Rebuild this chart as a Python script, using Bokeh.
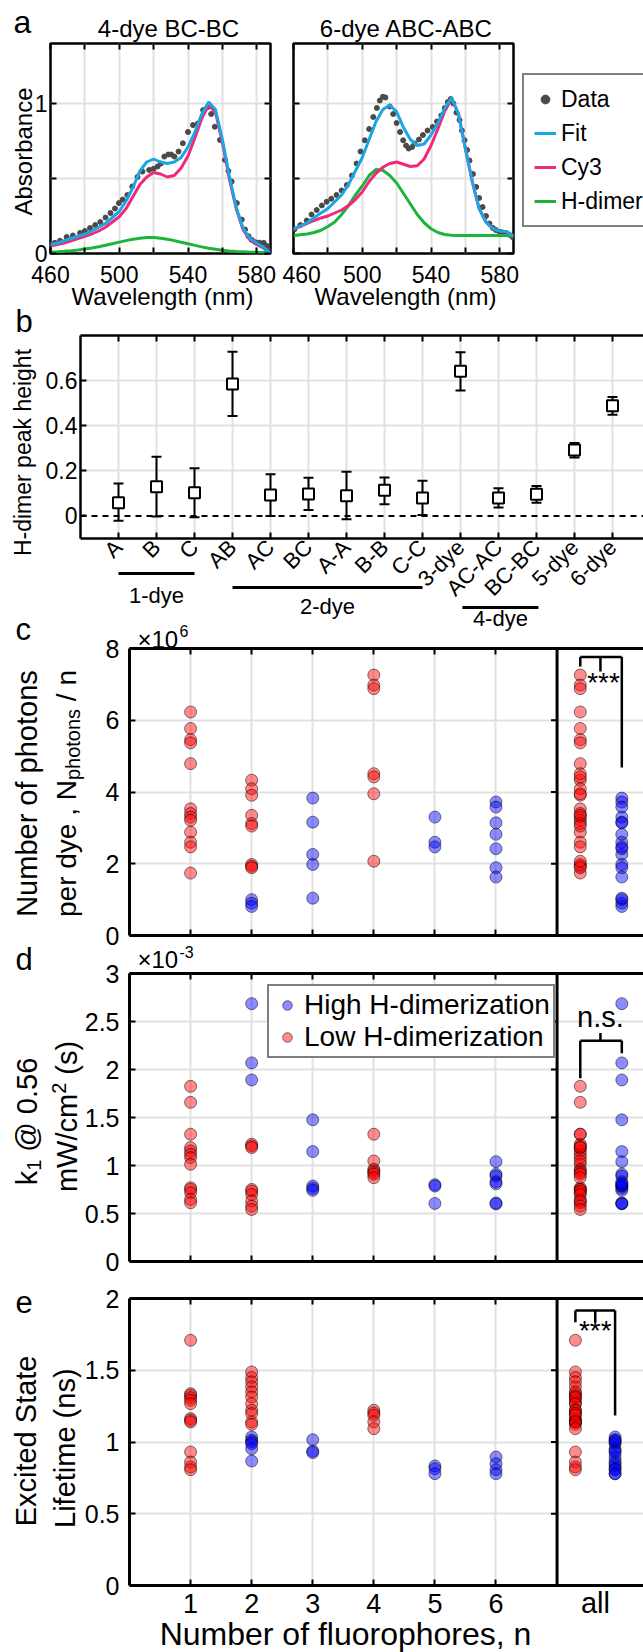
import math
from bokeh.plotting import figure
from bokeh.layouts import column, row
from bokeh.models import (Label, Legend, LegendItem, LinearAxis, FixedTicker, Span, Range1d)
from bokeh.embed import file_html
from bokeh.resources import INLINE

FONT = "Liberation Sans"
GRIDC = "#e1e1e1"
FITC = "#1aa6e2"
CY3C = "#f2287c"
HDC = "#1db43c"
DATC = "#4a4a4a"
NB = "\u00a0"

# ---------------- panel a data ----------------
wl_fit = [460, 464, 468, 472, 476, 480, 484, 488, 492, 496, 500, 504, 508, 512, 516, 520,
          524, 528, 532, 536, 540, 544, 548, 552, 556, 560, 564, 568, 572, 576, 580, 584, 588]
bcbc_fit = [0.06, 0.07, 0.085, 0.10, 0.115, 0.13, 0.15, 0.175, 0.20, 0.24, 0.28, 0.35, 0.44, 0.55, 0.61, 0.63,
            0.61, 0.60, 0.61, 0.64, 0.71, 0.81, 0.93, 1.01, 0.96, 0.76, 0.52, 0.31, 0.17, 0.10, 0.07, 0.04, 0.0]
bcbc_cy3 = [0.05, 0.06, 0.07, 0.085, 0.10, 0.115, 0.13, 0.15, 0.175, 0.21, 0.245, 0.30, 0.38, 0.46, 0.51, 0.54,
            0.53, 0.51, 0.52, 0.57, 0.65, 0.77, 0.90, 0.99, 0.94, 0.74, 0.50, 0.30, 0.16, 0.09, 0.06, 0.035, 0.0]
bcbc_hd = [0.010, 0.012, 0.015, 0.019, 0.024, 0.030, 0.037, 0.045, 0.055, 0.065, 0.076, 0.086, 0.095, 0.102,
           0.106, 0.106, 0.102, 0.095, 0.086, 0.075, 0.065, 0.054, 0.044, 0.035, 0.028, 0.022, 0.017, 0.013,
           0.011, 0.009, 0.008, 0.007, 0.006]
bcbc_wl = [460.5, 462.5, 465.5, 469.4, 473, 477.2, 480, 483, 486, 489, 492, 494.9, 497.5, 499.8, 502, 504.7,
           507.6, 510.6, 513.5, 517.4, 520, 522.3, 524.2, 526.2, 528.5, 530.2, 532.1, 534.5, 537, 540, 542.9,
           545.8, 548.8, 551.7, 553.5, 555.6, 558.6, 561.5, 563.5, 565.4, 568.4, 571.3, 573.2, 575.2, 577.2,
           579.2, 581.5, 584, 586, 588]
bcbc_dat = [0.065, 0.071, 0.085, 0.11, 0.12, 0.137, 0.15, 0.17, 0.19, 0.21, 0.24, 0.27, 0.30, 0.336, 0.36,
            0.39, 0.447, 0.51, 0.546, 0.557, 0.565, 0.58, 0.60, 0.646, 0.66, 0.66, 0.646, 0.68, 0.735, 0.81,
            0.856, 0.867, 0.956, 0.978, 0.93, 0.845, 0.757, 0.624, 0.55, 0.48, 0.336, 0.226, 0.16, 0.115,
            0.09, 0.075, 0.072, 0.071, 0.05, 0.02]

abc_fit = [0.164, 0.185, 0.205, 0.24, 0.27, 0.30, 0.345, 0.39, 0.46, 0.55, 0.64, 0.76, 0.88, 0.96, 0.99, 0.945,
           0.84, 0.76, 0.72, 0.73, 0.79, 0.87, 0.97, 1.04, 0.93, 0.70, 0.48, 0.30, 0.21, 0.165, 0.15, 0.145, 0.115]
abc_cy3 = [0.16, 0.18, 0.20, 0.22, 0.237, 0.25, 0.27, 0.29, 0.32, 0.36, 0.41, 0.48, 0.535, 0.575, 0.60, 0.61,
           0.595, 0.58, 0.585, 0.63, 0.72, 0.83, 0.95, 1.03, 0.93, 0.70, 0.48, 0.30, 0.21, 0.165, 0.15, 0.145, 0.115]
abc_hd = [0.12, 0.125, 0.13, 0.14, 0.155, 0.18, 0.21, 0.26, 0.32, 0.39, 0.45, 0.52, 0.56, 0.555, 0.52, 0.47,
          0.40, 0.33, 0.26, 0.205, 0.165, 0.14, 0.127, 0.122, 0.12, 0.12, 0.12, 0.12, 0.12, 0.12, 0.12, 0.12, 0.115]
abc_wl = [460.5, 464, 467.7, 470.5, 473.5, 476.5, 479.3, 482, 485, 488, 491, 494, 496.7, 499, 501.5, 504,
          506.4, 508.5, 510.2, 512, 513.5, 516, 518, 520, 522, 523.8, 525.5, 527, 529, 530.5, 533, 535.3,
          538, 541, 543.5, 546, 548, 549.8, 551.5, 553, 554.8, 556.6, 558, 559.5, 561, 562.4, 564.4, 566.3,
          568, 570, 572, 574, 576, 577.8, 580, 581.7, 583.5, 585.6, 587.5]
abc_dat = [0.16, 0.19, 0.22, 0.26, 0.29, 0.32, 0.345, 0.365, 0.39, 0.42, 0.456, 0.52, 0.60, 0.68, 0.755, 0.83,
           0.91, 0.97, 1.02, 1.045, 1.04, 0.98, 0.93, 0.87, 0.81, 0.755, 0.72, 0.70, 0.71, 0.733, 0.76, 0.79,
           0.82, 0.844, 0.88, 0.92, 0.97, 1.01, 1.03, 1.0, 0.94, 0.89, 0.82, 0.755, 0.69, 0.62, 0.53, 0.444,
           0.37, 0.31, 0.25, 0.20, 0.17, 0.156, 0.145, 0.14, 0.135, 0.125, 0.11]
wl_ticks = [460, 480, 500, 520, 540, 560, 580]
wl_labels = ["460", "", "500", "", "540", "", "580"]

# ---------------- panel b data ----------------
b_cats = ["A", "B", "C", "AB", "AC", "BC", "A-A", "B-B", "C-C", "3-dye", "AC-AC", "BC-BC", "5-dye", "6-dye"]
b_mid = [0.059, 0.129, 0.103, 0.585, 0.093, 0.097, 0.089, 0.114, 0.080, 0.641, 0.080, 0.096, 0.292, 0.489]
b_hi = [0.144, 0.262, 0.212, 0.728, 0.185, 0.169, 0.196, 0.170, 0.156, 0.726, 0.123, 0.133, 0.323, 0.527]
b_lo = [-0.021, -0.003, -0.006, 0.443, 0.0, 0.026, -0.015, 0.052, 0.004, 0.556, 0.037, 0.059, 0.259, 0.449]
b_groups = [("1-dye", 1, 3), ("2-dye", 4, 9), ("4-dye", 10.05, 12.05)]

# ---------------- panels c-e data ----------------
n_ticks = [1, 2, 3, 4, 5, 6]
photons_low = {1: [6.23, 5.77, 5.46, 5.37, 4.79, 3.53, 3.40, 3.30, 3.21, 2.88, 2.60, 2.47, 1.74],
               2: [4.33, 4.09, 3.91, 3.35, 3.12, 3.05, 1.98, 1.93, 1.89],
               4: [7.26, 6.98, 6.88, 4.51, 4.42, 3.95, 2.07]}
photons_high = {2: [1.00, 0.90, 0.81],
                3: [3.83, 3.16, 2.26, 1.98, 1.04],
                5: [3.30, 2.60, 2.47],
                6: [3.72, 3.58, 3.14, 2.82, 2.42, 1.89, 1.63]}
k1_low = {1: [1.825, 1.658, 1.326, 1.187, 1.152, 1.117, 1.082, 1.013, 0.768, 0.751, 0.716, 0.646, 0.612],
          2: [1.222, 1.204, 1.187, 0.751, 0.733, 0.698, 0.629, 0.577, 0.542],
          4: [1.326, 1.047, 0.960, 0.943, 0.925, 0.908, 0.873]}
k1_high = {2: [2.686, 2.069, 1.891],
           3: [1.476, 1.145, 0.786, 0.762, 0.741],
           5: [0.80, 0.786, 0.605],
           6: [1.04, 0.91, 0.89, 0.83, 0.81, 0.61, 0.60]}
life_low = {1: [1.709, 1.337, 1.326, 1.309, 1.291, 1.267, 1.163, 1.151, 1.140, 0.930, 0.860, 0.826, 0.807],
            2: [1.488, 1.449, 1.419, 1.384, 1.349, 1.314, 1.267, 1.221, 1.198, 1.140, 1.123],
            4: [1.221, 1.202, 1.186, 1.140, 1.093]}
life_high = {2: [1.035, 1.012, 1.0, 0.988, 0.953, 0.867],
             3: [1.016, 0.937, 0.926],
             5: [0.833, 0.814, 0.779],
             6: [0.895, 0.849, 0.807, 0.779]}

# Arial / Liberation Sans advance widths (1/1000 em) for composing multi-part labels
AW = {' ': 278, NB: 278, '(': 333, ')': 333, ',': 278, '-': 333, '.': 278, '/': 278, '@': 1015, '×': 584,
      'N': 722, 'W': 944, 'a': 556, 'c': 500, 'd': 556, 'e': 556, 'h': 556, 'k': 500, 'm': 833,
      'n': 556, 'o': 556, 'p': 556, 'r': 333, 's': 500, 't': 278, 'y': 500}


def tw(s, size):
    return sum(AW.get(ch, 556) for ch in s) * size / 1000.0


# ---------------- helpers ----------------
def mk(w, h, xr, yr, l, r, t, b):
    p = figure(width=w, height=h, x_range=Range1d(*xr), y_range=Range1d(*yr),
               output_backend="svg", toolbar_location=None,
               x_axis_location=None, y_axis_location=None,
               min_border_left=l, min_border_right=r, min_border_top=t, min_border_bottom=b)
    p.title = None
    p.frame_align = False
    p.background_fill_color = "white"
    p.border_fill_color = "white"
    p.outline_line_color = None
    for g in p.xgrid + p.ygrid:
        g.grid_line_color = GRIDC
        g.grid_line_width = 2
    return p


def set_grid(p, xt, yt):
    p.xgrid.ticker = FixedTicker(ticks=xt, minor_ticks=[])
    p.ygrid.ticker = FixedTicker(ticks=yt, minor_ticks=[])


def axis(p, side, ticks, labels=None, size="23px", line=True, lw=2.5, standoff=5, orient=None):
    ax = LinearAxis(ticker=FixedTicker(ticks=list(ticks), minor_ticks=[]))
    ax.major_tick_in = 6
    ax.major_tick_out = 0
    ax.minor_tick_line_color = None
    ax.major_tick_line_width = 2
    ax.major_tick_line_color = "black"
    ax.axis_line_width = lw
    ax.axis_line_color = "black" if line else None
    ax.major_label_text_font = FONT
    ax.major_label_text_color = "black"
    ax.major_label_text_font_size = size
    if labels is None:
        labels = [""] * len(ticks)
        ax.major_label_standoff = 0
    else:
        ax.major_label_standoff = standoff
    ax.major_label_overrides = {t: s for t, s in zip(ticks, labels)}
    if orient is not None:
        ax.major_label_orientation = orient
    p.add_layout(ax, side)
    return ax


V = math.pi / 2

# ================= Row A =================
A1 = mk(282, 309, (460, 588), (0, 1.4), 50, 12, 43, 56)
A2 = mk(361, 309, (460, 588), (0, 1.4), 11, 130, 43, 56)
for key, p, wl, dat, hd, cy, ft in [
        ("A1", A1, bcbc_wl, bcbc_dat, bcbc_hd, bcbc_cy3, bcbc_fit),
        ("A2", A2, abc_wl, abc_dat, abc_hd, abc_cy3, abc_fit)]:
    p.outline_line_color = "black"
    p.outline_line_width = 2.5
    set_grid(p, wl_ticks[1:], [0.5, 1.0])
    axis(p, "below", wl_ticks, wl_labels, size="23px", line=False, standoff=12)
    axis(p, "above", wl_ticks, None, line=False)
    axis(p, "left", [0, 0.5, 1.0], ["0", "", "1"] if key == "A1" else None, size="23px", line=False,
         standoff=3)
    axis(p, "right", [0, 0.5, 1.0], None, line=False)
    p.scatter(wl, dat, size=5, color=DATC)
    p.line(wl_fit, hd, color=HDC, line_width=3)
    p.line(wl_fit, cy, color=CY3C, line_width=3)
    p.line(wl_fit, ft, color=FITC, line_width=3)

# ================= Row B =================
B_LEFT, B_W, B_XMAX = 80, 563, 14.816
B = mk(643, 323, (0, B_XMAX), (-0.1, 0.8), B_LEFT, 0, 26, 94)
bx = [i + 1 for i in range(len(b_cats))]
set_grid(B, bx, [0.2, 0.4, 0.6])
axis(B, "left", [0, 0.2, 0.4, 0.6], ["0", "0.2", "0.4", "0.6"], size="23px", standoff=3)
axis(B, "below", bx, b_cats, size="22px", standoff=5, orient=math.pi / 4)
axis(B, "above", bx, None)
B.add_layout(Span(location=0, dimension="width", line_color="black", line_width=2, line_dash="6 5"))
B.segment(x0=bx, y0=b_lo, x1=bx, y1=b_hi, line_color="black", line_width=2)
B.scatter(bx, b_hi, marker="dash", size=10, line_color="black", line_width=2)
B.scatter(bx, b_lo, marker="dash", size=10, line_color="black", line_width=2)
B.scatter(bx, b_mid, marker="square", size=11, fill_color="white", line_color="black", line_width=2)


# ================= Rows C, D, E =================
def scatter_panel(p, low, high, x_low_all, x_high_all):
    hx, hv, lx, lv = [], [], [], []
    for n, vals in high.items():
        hx += [n] * len(vals)
        hv += vals
    for n, vals in low.items():
        lx += [n] * len(vals)
        lv += vals
    kw = dict(size=12, fill_alpha=0.45, line_color="black", line_alpha=0.5, line_width=1)
    rh = p.scatter(hx, hv, fill_color="blue", **kw)
    rl = p.scatter(lx, lv, fill_color="red", **kw)
    p.scatter([x_low_all] * len(lv), lv, fill_color="red", **kw)
    p.scatter([x_high_all] * len(hv), hv, fill_color="blue", **kw)
    return rh, rl


def frame_cde(p, yt, ylabels, xlabels=None):
    set_grid(p, n_ticks, yt[1:-1])
    axis(p, "left", yt, ylabels, size="25px", lw=3, standoff=10)
    axis(p, "below", n_ticks, xlabels, size="27px", lw=3, standoff=8)
    axis(p, "above", n_ticks, None, lw=3)
    p.add_layout(Span(location=7, dimension="height", line_color="black", line_width=3))
    tk = yt[1:-1]
    p.segment(x0=[7 - 0.1] * len(tk), y0=tk, x1=[7] * len(tk), y1=tk, line_color="black", line_width=2)


XA_L, XA_H = 7.38, 8.06
XE_L, XE_H = 7.30, 7.95
CX = (0, 8.415)

# ---- C ----
C = mk(643, 316, CX, (0, 8), 129, 0, 16, 13)
frame_cde(C, [0, 2, 4, 6, 8], ["0", "2", "4", "6", "8"])
scatter_panel(C, photons_low, photons_high, XA_L, XA_H)
c_br = dict(top=7.76, left=7.50, mid=7.36, right=4.68)
C.segment(x0=[XA_L, XA_L, 7.71, XA_H], y0=[c_br["top"]] * 4,
          x1=[XA_H, XA_L, 7.71, XA_H], y1=[c_br["top"], c_br["left"], c_br["mid"], c_br["right"]],
          line_color="black", line_width=2.5)
C.add_layout(Label(x=7.76, y=6.63, text="***", text_font=FONT, text_font_size="28px",
                   text_align="center", text_color="black"))

# ---- D ----
D = mk(643, 327, CX, (0, 3), 129, 0, 25, 14)
frame_cde(D, [0, 0.5, 1, 1.5, 2, 2.5, 3], ["0", "0.5", "1", "1.5", "2", "2.5", "3"])
rh, rl = scatter_panel(D, k1_low, k1_high, XA_L, XA_H)
d_br = dict(top=2.30, left=1.91, stub=2.38, right=2.17)
D.segment(x0=[XA_L, XA_L, 7.71, XA_H], y0=[d_br["top"]] * 4,
          x1=[XA_H, XA_L, 7.71, XA_H], y1=[d_br["top"], d_br["left"], d_br["stub"], d_br["right"]],
          line_color="black", line_width=2.5)
D.add_layout(Label(x=7.71, y=2.38, text="n.s.", text_font=FONT, text_font_size="29px",
                   text_align="center", text_color="black"))
legD = Legend(items=[LegendItem(label="High H-dimerization", renderers=[rh]),
                     LegendItem(label="Low H-dimerization", renderers=[rl])],
              location=(138, 203), label_text_font=FONT, label_text_font_size="28px",
              label_text_color="black", border_line_color="black", border_line_width=2.5,
              background_fill_color="white", background_fill_alpha=1.0, padding=3, spacing=0,
              label_height=24, glyph_height=24, glyph_width=30, label_standoff=2, margin=0)
D.add_layout(legD)

# ---- E ----
E = mk(643, 377, CX, (0, 2), 129, 0, 23, 67)
frame_cde(E, [0, 0.5, 1, 1.5, 2], ["0", "0.5", "1", "1.5", "2"], [str(n) for n in n_ticks])
scatter_panel(E, life_low, life_high, XE_L, XE_H)
e_br = dict(top=1.916, left=1.835, right=1.185)
xm_e = (XE_L + XE_H) / 2
E.segment(x0=[XE_L, XE_L, xm_e, XE_H], y0=[e_br["top"]] * 4,
          x1=[XE_H, XE_L, xm_e, XE_H], y1=[e_br["top"], e_br["left"], e_br["left"], e_br["right"]],
          line_color="black", line_width=2.5)
E.add_layout(Label(x=xm_e, y=1.666, text="***", text_font=FONT, text_font_size="28px",
                   text_align="center", text_color="black"))

# ================= page overlay: titles, axis titles, panel letters, group brackets, legend a ======
PH = 1652
OV = figure(width=643, height=PH, x_range=Range1d(0, 643), y_range=Range1d(0, PH),
            output_backend="svg", toolbar_location=None, x_axis_location=None, y_axis_location=None,
            min_border_left=0, min_border_right=0, min_border_top=0, min_border_bottom=0)
OV.title = None
OV.frame_align = False
OV.xgrid.visible = False
OV.ygrid.visible = False
OV.background_fill_color = None
OV.border_fill_color = None
OV.outline_line_color = None
OV.styles = {"margin-top": "-%dpx" % PH}


def t(x, y, text, size, align="left", baseline="alphabetic", angle=0.0):
    # x, y in page pixels from the top-left corner; y is the baseline unless baseline="middle"
    if baseline == "alphabetic":
        y = y - 0.35 * float(size.replace("px", ""))
    OV.add_layout(Label(x=x, y=PH - y, text=text, text_font=FONT, text_font_size=size, text_color="black",
                        text_align=align, text_baseline="middle", angle=angle))


def vlabel(parts, cx, cy):
    total = sum(tw(s, sz) for s, sz, dx in parts)
    y = cy + total / 2
    for s, sz, dx in parts:
        t(cx + dx, y, s, "%dpx" % sz, baseline="middle", angle=V)
        y -= tw(s, sz)


# panel a
t(13, 33, "a", "32px")
t(168, 28, "4-dye BC-BC", "24px", align="center", baseline="middle")
t(406, 28, "6-dye ABC-ABC", "24px", align="center", baseline="middle")
t(23, 151, "Absorbance", "24px", align="center", baseline="middle", angle=V)
t(162, 296, "Wavelength (nm)", "24px", align="center", baseline="middle")
t(405, 296, "Wavelength (nm)", "24px", align="center", baseline="middle")
# off-canvas proxies carrying the legend styles of panel a
ld = OV.scatter(x=[-50], y=[-50], size=5, color=DATC)
lf = OV.line(x=[-60, -50], y=[-50, -50], color=FITC, line_width=3)
lc = OV.line(x=[-60, -50], y=[-50, -50], color=CY3C, line_width=3)
lh = OV.line(x=[-60, -50], y=[-50, -50], color=HDC, line_width=3)
legA = Legend(items=[LegendItem(label="Data", renderers=[ld]), LegendItem(label="Fit", renderers=[lf]),
                     LegendItem(label="Cy3", renderers=[lc]), LegendItem(label="H-dimer", renderers=[lh])],
              location=(522, PH - 227), label_text_font=FONT, label_text_font_size="23px",
              label_text_color="black", border_line_color="black", border_line_width=2,
              background_fill_color="white", background_fill_alpha=1.0, padding=10, spacing=6,
              label_height=28, glyph_height=28, glyph_width=22, label_standoff=5, margin=0)
OV.add_layout(legA)

# panel b
t(15, 332, "b", "31px")
t(22, 452, "H-dimer peak height", "23px", align="center", baseline="middle", angle=V)
bscale = B_W / B_XMAX
line_py = [573, 587, 607]
label_py = [603, 614, 626]
gx0 = [B_LEFT + g[1] * bscale for g in b_groups]
gx1 = [B_LEFT + g[2] * bscale for g in b_groups]
gy = [PH - v for v in line_py]
OV.segment(x0=gx0, y0=gy, x1=gx1, y1=gy, line_color="black", line_width=3)
for (name, a0, a1), x0, x1, ly in zip(b_groups, gx0, gx1, label_py):
    t((x0 + x1) / 2, ly, name, "22px", align="center")

# panel c
t(15, 640, "c", "31px")
t(137, 647, "×10", "24px")
t(179, 636, "6", "16px")
vlabel([("Number of photons", 29, 0)], 26, 789)
vlabel([("per dye , N", 28, 0), ("photons", 20, 6), (NB + "/ n", 28, 0)], 66, 793)

# panel d
t(15, 970, "d", "31px")
t(137, 967, "×10", "24px")
t(179, 957, "-3", "16px")
vlabel([("k", 29, 0), ("1", 20, 7), (NB + "@ 0.56", 29, 0)], 26, 1121)
vlabel([("mW/cm", 29, 0), ("2", 20, -8), (NB + "(s)", 29, 0)], 66, 1116)

# panel e
t(15, 1312, "e", "31px")
vlabel([("Excited State", 29, 0)], 25, 1438)
vlabel([("Lifetime (ns)", 29, 0)], 64, 1434)
t(595, 1613, "all", "29px", align="center")
t(345, 1645, "Number of fluorophores, n", "32px", align="center")

layout = column(row(A1, A2), B, C, D, E, OV)
open("out.html", "w").write(file_html(layout, INLINE))
